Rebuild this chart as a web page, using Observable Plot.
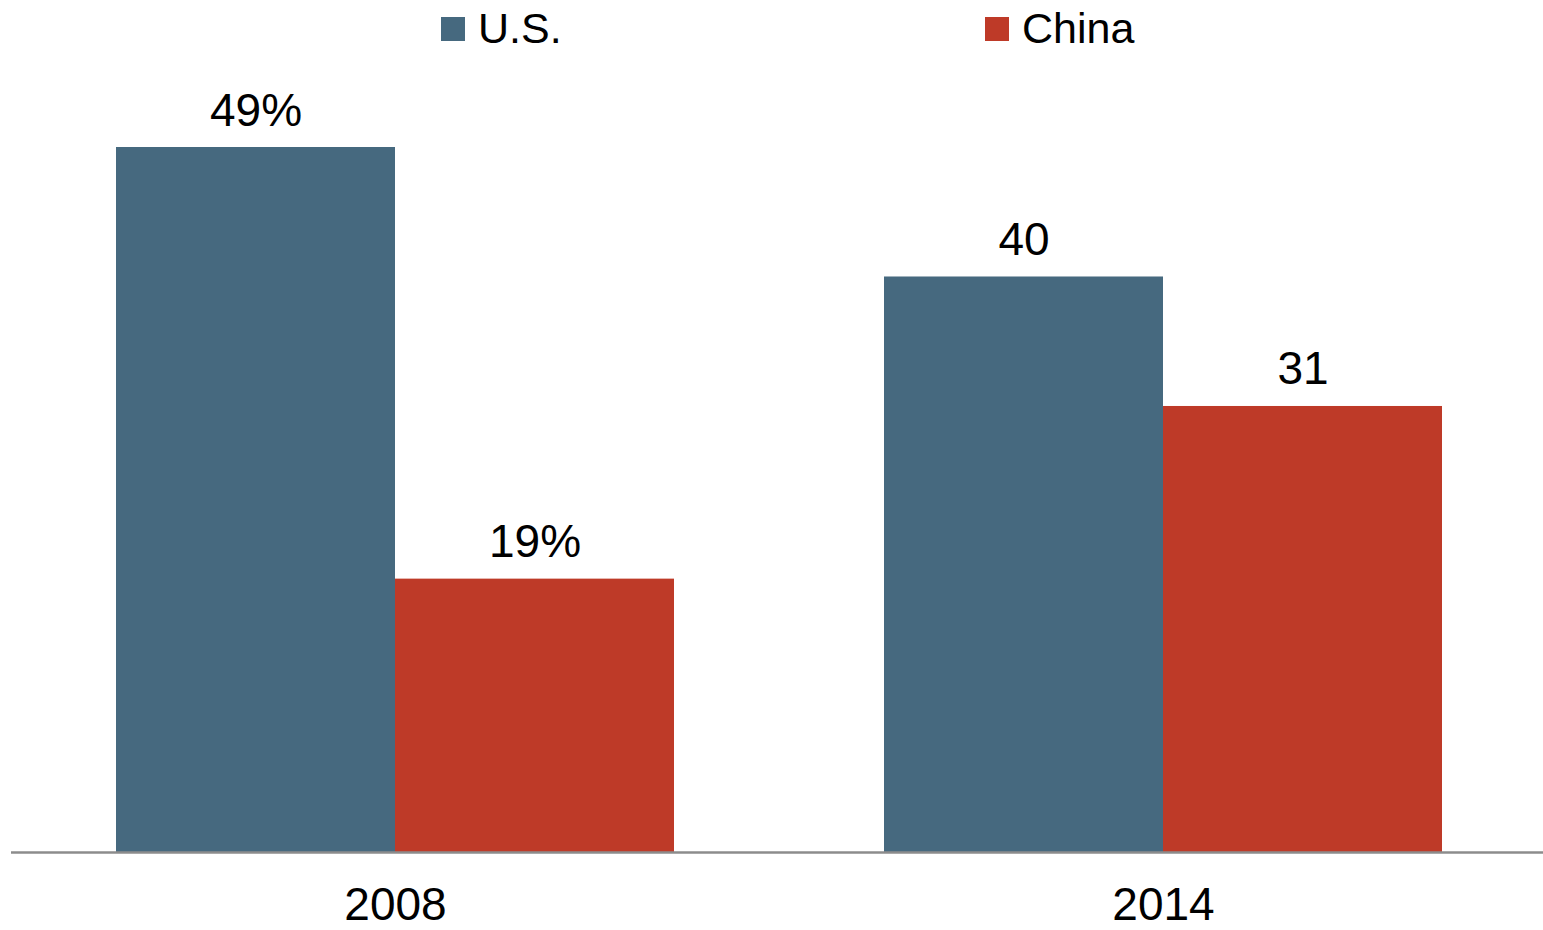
<!DOCTYPE html>
<html>
<head>
<meta charset="utf-8">
<script src="https://cdn.jsdelivr.net/npm/d3@7"></script>
<script src="https://cdn.jsdelivr.net/npm/@observablehq/plot@0.6"></script>
<style>
  html, body { margin: 0; padding: 0; background: #fff; }
  body { width: 1543px; height: 930px; overflow: hidden; font-family: "Liberation Sans", Arial, sans-serif; }
  #legend { position: relative; height: 60px; width: 1543px; }
  .item { position: absolute; top: 0; height: 60px; display: flex; align-items: center; }
  .sw { width: 24px; height: 24px; margin-right: 13px; margin-top: -3px; }
  .lab { font-size: 43px; color: #000; line-height: 1; margin-top: -4px; }
</style>
</head>
<body>
<div id="legend"></div>
<div id="chart"></div>
<script>
const years = ["2008", "2014"];
const countries = ["U.S.", "China"];
const usValues = [49, 40];
const chinaValues = [19, 31];
const usLabels = ["49%", "40"];
const chinaLabels = ["19%", "31"];
const colors = ["#46697f", "#be3a28"];

const data = [];
years.forEach((y, i) => {
  data.push({year: y, country: countries[0], value: usValues[i], label: usLabels[i]});
  data.push({year: y, country: countries[1], value: chinaValues[i], label: chinaLabels[i]});
});

// legend
const legend = document.getElementById("legend");
const legendX = [441, 985];
countries.forEach((c, i) => {
  const it = document.createElement("div");
  it.className = "item";
  it.style.left = legendX[i] + "px";
  it.innerHTML = `<div class="sw" style="background:${colors[i]}"></div><div class="lab">${c}</div>`;
  legend.appendChild(it);
});

const chart = Plot.plot({
  width: 1543,
  height: 870,
  marginLeft: 11,
  marginRight: 0,
  marginTop: 87,
  marginBottom: 78,
  style: {fontFamily: "'Liberation Sans', Arial, sans-serif", background: "#fff", overflow: "hidden"},
  fx: {domain: years, padding: 0, label: null, range: [11, 1547]},
  x: {domain: countries, paddingInner: 0, paddingOuter: 0.3763, axis: null},
  y: {domain: [0, 49], axis: null},
  color: {domain: countries, range: colors},
  marks: [
    Plot.barY(data, {fx: "year", x: "country", y: "value", fill: "country", inset: 0}),
    Plot.text(data, {fx: "year", x: "country", y: "value", text: "label", lineAnchor: "bottom", dy: -22, fontSize: 46, fill: "#000"}),
    Plot.ruleY([0], {stroke: "#8c8c8c", strokeWidth: 2.5}),
    Plot.axisFx({anchor: "bottom", tickSize: 0, tickPadding: 35, fontSize: 46, label: null, color: "#000"})
  ]
});
document.getElementById("chart").appendChild(chart);
</script>
</body>
</html>
